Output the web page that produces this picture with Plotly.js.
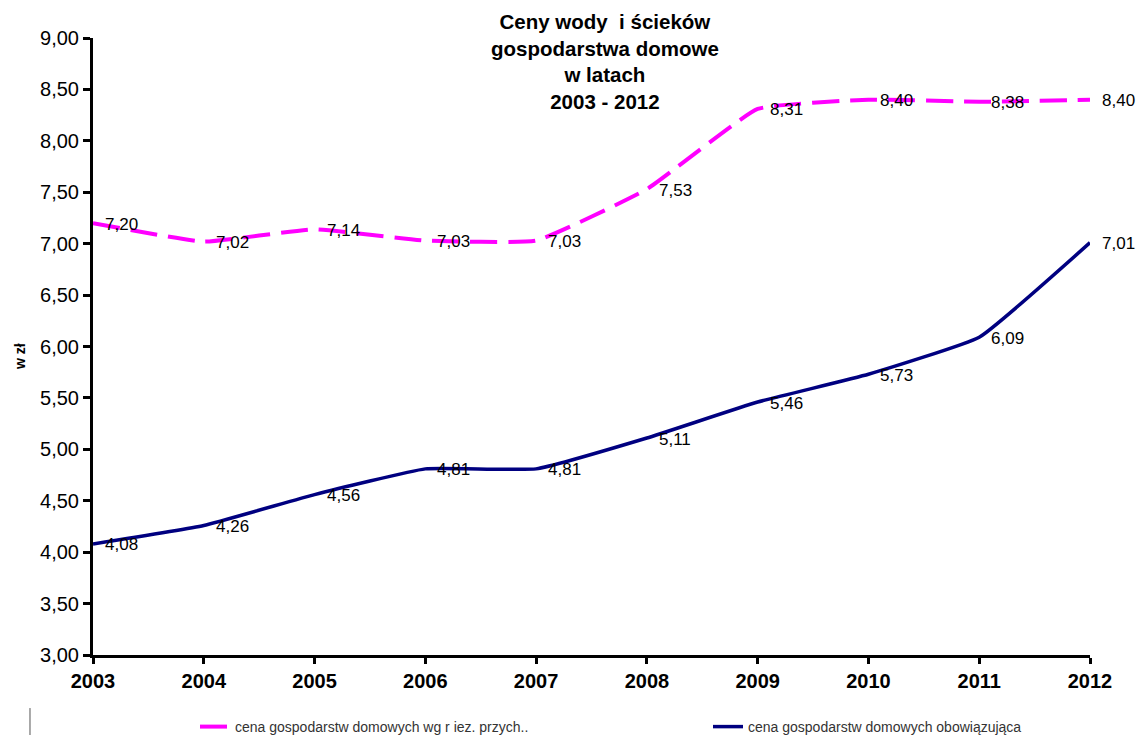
<!DOCTYPE html>
<html>
<head>
<meta charset="utf-8">
<script src="https://cdn.plot.ly/plotly-3.0.1.min.js"></script>
<style>html,body{margin:0;padding:0;background:#fff;}#chart{width:1146px;height:735px;}</style>
</head>
<body>
<div id="chart"></div>
<script>
var years = ['2003','2004','2005','2006','2007','2008','2009','2010','2011','2012'];
var cenaWgRiez = [7.20, 7.02, 7.14, 7.03, 7.03, 7.53, 8.31, 8.40, 8.38, 8.40];
var cenaObow = [4.08, 4.26, 4.56, 4.81, 4.81, 5.11, 5.46, 5.73, 6.09, 7.01];
var seriesNames = ['cena gospodarstw domowych wg r iez. przych..', 'cena gospodarstw domowych obowiązująca'];
var yTicks = [3.00, 3.50, 4.00, 4.50, 5.00, 5.50, 6.00, 6.50, 7.00, 7.50, 8.00, 8.50, 9.00];
var chartTitle = 'Ceny wody  i ścieków<br>gospodarstwa domowe<br>w latach<br>2003 - 2012';
var yTitle = 'w zł';

function fmt(v){ return v.toFixed(2).replace('.', ','); }

var FONT = 'Liberation Sans, Arial, sans-serif';

var traces = [
  {
    x: years, y: cenaWgRiez, name: seriesNames[0], type: 'scatter', mode: 'lines',
    line: {color: '#FF00FF', width: 4, dash: '27px,11px', shape: 'spline', smoothing: 0.35},
    legend: 'legend'
  },
  {
    x: years, y: cenaObow, name: seriesNames[1], type: 'scatter', mode: 'lines',
    line: {color: '#000080', width: 3.5, shape: 'spline', smoothing: 0.35},
    legend: 'legend2'
  }
];

var annotations = [];
[cenaWgRiez, cenaObow].forEach(function(series){
  series.forEach(function(v, i){
    annotations.push({
      x: i, y: v, xref: 'x', yref: 'y', text: fmt(v), showarrow: false,
      xanchor: 'left', yanchor: 'middle', xshift: 10, yshift: -1,
      font: {family: FONT, size: 17, color: '#000'}
    });
  });
});
annotations.push({
  text: '<b>' + chartTitle + '</b>', xref: 'paper', yref: 'paper',
  x: (605 - 93) / 997, y: (655 - 8) / 617, xanchor: 'center', yanchor: 'top', showarrow: false,
  font: {family: FONT, size: 20.5, color: '#000'}
});
annotations.push({
  text: '<b>' + yTitle + '</b>', xref: 'paper', yref: 'paper',
  x: (20 - 93) / 997, y: (655 - 357) / 617, xanchor: 'center', yanchor: 'middle',
  textangle: -90, showarrow: false,
  font: {family: FONT, size: 14, color: '#000'}
});

var legendCommon = {
  orientation: 'h', xanchor: 'left', yanchor: 'middle', yref: 'container',
  font: {family: FONT, size: 14, color: '#333'},
  bgcolor: 'rgba(0,0,0,0)'
};

var layout = {
  width: 1146, height: 735,
  margin: {l: 93, r: 56, t: 38, b: 80},
  paper_bgcolor: '#fff', plot_bgcolor: '#fff',
  separators: ',.',
  font: {family: FONT, color: '#000'},
  xaxis: {
    type: 'category', range: [0, 9], showgrid: false, zeroline: false,
    showline: true, linecolor: '#000', linewidth: 3,
    ticks: 'outside', ticklen: 6, tickwidth: 3, tickcolor: '#000',
    tickfont: {family: FONT, size: 20, color: '#000', weight: 'bold'},
    fixedrange: true
  },
  yaxis: {
    range: [3, 9], tickvals: yTicks, ticktext: yTicks.map(fmt),
    showgrid: false, zeroline: false,
    showline: true, linecolor: '#000', linewidth: 3,
    ticks: 'outside', ticklen: 7, tickwidth: 3, tickcolor: '#000',
    tickfont: {family: FONT, size: 20, color: '#000'},
    fixedrange: true
  },
  showlegend: true,
  legend: Object.assign({}, legendCommon, {x: (195 - 93) / 997, y: 1 - 727 / 735}),
  legend2: Object.assign({}, legendCommon, {x: (708 - 93) / 997, y: 1 - 727 / 735}),
  annotations: annotations,
  shapes: [
    {type: 'line', xref: 'paper', yref: 'paper', x0: -0.0632, x1: -0.0632, y0: -0.086, y1: -0.135,
     line: {color: '#555', width: 1}}
  ]
};

Plotly.newPlot('chart', traces, layout, {displayModeBar: false, staticPlot: true});
</script>
</body>
</html>
